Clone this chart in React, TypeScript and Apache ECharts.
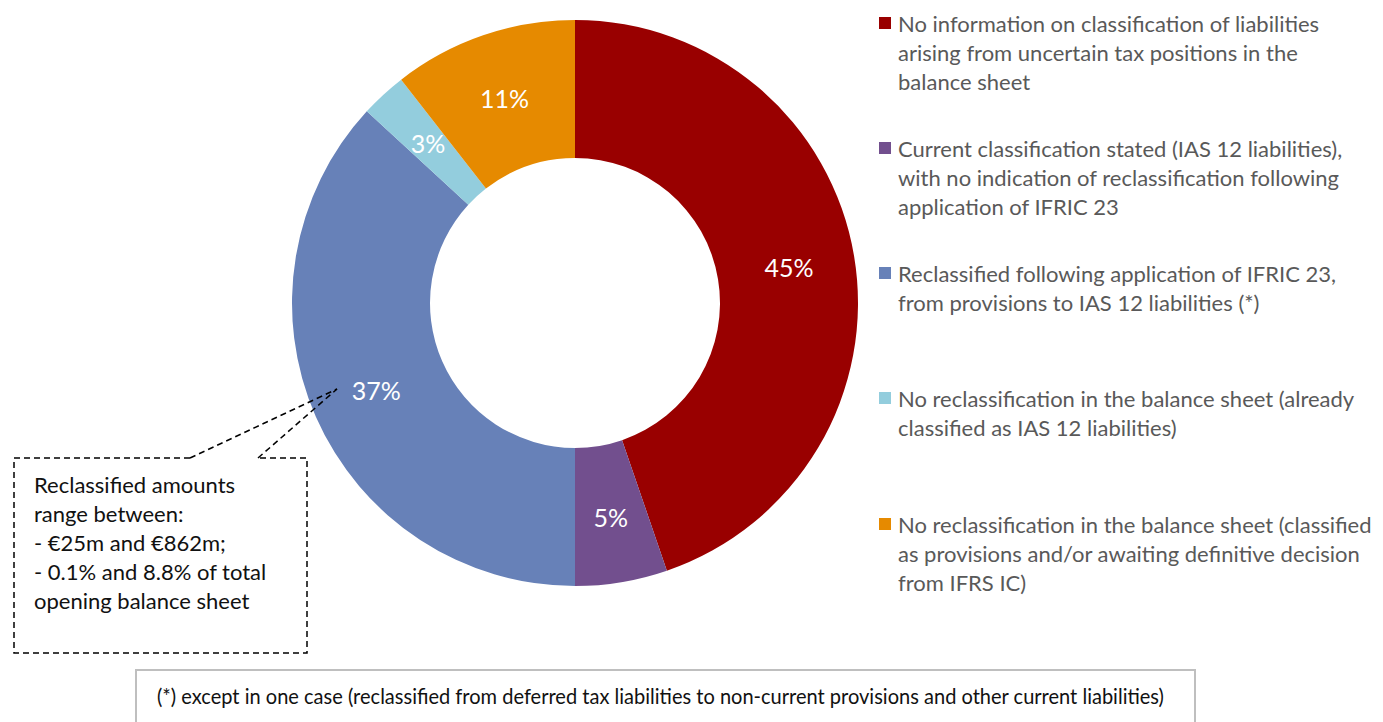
import React, { useEffect, useRef } from "react";
import * as echarts from "echarts";

const categories = [
  "No information on classification of liabilities\narising from uncertain tax positions in the\nbalance sheet",
  "Current classification stated (IAS 12 liabilities),\nwith no indication of reclassification following\napplication of IFRIC 23",
  "Reclassified following application of IFRIC 23,\nfrom provisions to IAS 12 liabilities (*)",
  "No reclassification in the balance sheet (already\nclassified as IAS 12 liabilities)",
  "No reclassification in the balance sheet (classified\nas provisions and/or awaiting definitive decision\nfrom IFRS IC)",
];
const counts = [17, 2, 14, 1, 4];
const colors = ["#990000", "#724F8E", "#6781B8", "#93CDDD", "#E68A00"];
const calloutText =
  "Reclassified amounts\nrange between:\n- €25m and €862m;\n- 0.1% and 8.8% of total\nopening balance sheet";
const footnote =
  "(*) except in one case (reclassified from deferred tax liabilities to non-current provisions and other current liabilities)";

const FONT = "Lato, 'Open Sans', sans-serif";

export default function App() {
  const ref = useRef<HTMLDivElement>(null);
  useEffect(() => {
    if (!ref.current) return;
    const chart = echarts.init(ref.current, null, { renderer: "svg" });
    const total = counts.reduce((a, b) => a + b, 0);
    const legendTops = [23, 148, 273, 398, 524];
    const legendGraphics: any[] = [];
    categories.forEach((c, i) => {
      legendGraphics.push({
        type: "rect",
        shape: { x: 879, y: legendTops[i] - 6, width: 12, height: 12 },
        style: { fill: colors[i] },
      });
      legendGraphics.push({
        type: "text",
        x: 898,
        y: legendTops[i] - 14.5,
        style: {
          text: c,
          fill: "#595959",
          font: `22px ${FONT}`,
          lineHeight: 29,
          textVerticalAlign: "top",
          textAlign: "left",
        },
      });
    });
    const tip = [337, 389];
    const dash = { stroke: "#000", lineWidth: 1.5, lineDash: [6, 4] };
    chart.setOption({
      animation: false,
      series: [
        {
          type: "pie",
          center: [575, 303],
          radius: [145, 283],
          startAngle: 90,
          clockwise: true,
          avoidLabelOverlap: false,
          data: counts.map((v, i) => ({
            value: v,
            name: categories[i],
            itemStyle: { color: colors[i] },
          })),
          label: {
            show: true,
            position: "inside",
            color: "#fff",
            fontSize: 25,
            fontFamily: FONT,
            formatter: (p: any) => Math.round((p.value / total) * 100) + "%",
          },
          labelLine: { show: false },
          emphasis: { disabled: true },
        },
      ],
      graphic: [
        ...legendGraphics,
        {
          type: "polyline",
          z: 100,
          shape: {
            points: [
              [190, 458],
              [14, 458],
              [14, 653],
              [307, 653],
              [307, 458],
              [258, 458],
            ],
          },
          style: { fill: "none", ...dash },
        },
        {
          type: "line",
          z: 100,
          shape: { x1: 190, y1: 458, x2: tip[0], y2: tip[1] },
          style: dash,
        },
        {
          type: "line",
          z: 100,
          shape: { x1: 258, y1: 458, x2: tip[0], y2: tip[1] },
          style: dash,
        },
        {
          type: "text",
          x: 34,
          y: 484 - 14.5,
          style: {
            text: calloutText,
            fill: "#111",
            font: `22px ${FONT}`,
            lineHeight: 29,
            textVerticalAlign: "top",
          },
        },
        {
          type: "rect",
          shape: { x: 136, y: 670, width: 1059, height: 70 },
          style: { fill: "#fff", stroke: "#BFBFBF", lineWidth: 2 },
        },
        {
          type: "text",
          x: 157,
          y: 695,
          scaleX: 0.911,
          style: {
            text: footnote,
            fill: "#111",
            font: `22px ${FONT}`,
            textVerticalAlign: "middle",
          },
        },
      ],
    });
    return () => chart.dispose();
  }, []);
  return (
    <div
      ref={ref}
      style={{ position: "absolute", left: 0, top: 0, width: 1383, height: 722, background: "#fff" }}
    />
  );
}
